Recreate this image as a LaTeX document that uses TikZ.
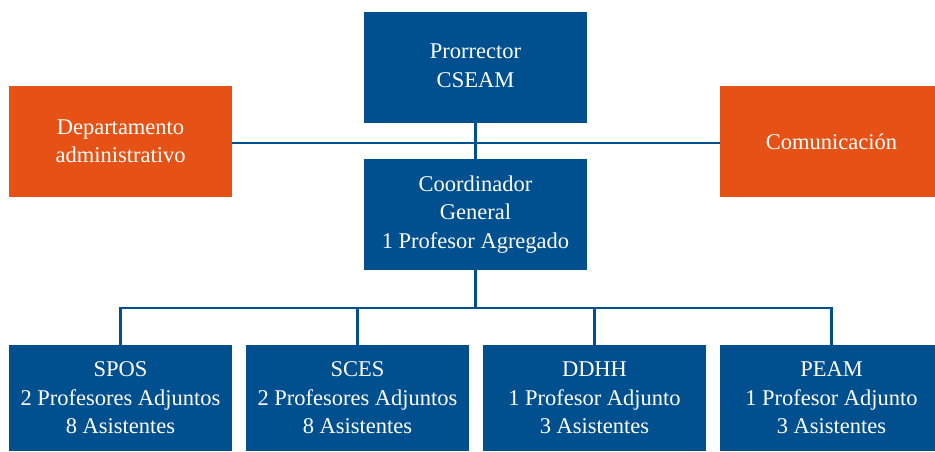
\documentclass[tikz,border=0pt]{standalone}
\usepackage{fontspec}
\setmainfont{Liberation Serif}
\definecolor{uniblue}{RGB}{0,79,143}
\definecolor{uniorange}{RGB}{230,82,22}
\begin{document}
\begin{tikzpicture}[x=1pt,y=-1pt,
  box/.style={fill=uniblue, text=white, inner sep=0pt, align=center,
    minimum width=223pt, minimum height=111pt,
    font=\fontsize{22.5}{28.5}\selectfont},
  obox/.style={box, fill=uniorange},
  lowbox/.style={box, minimum height=106pt},
  link/.style={draw=uniblue, line width=2.6pt}]
\clip (0,0) rectangle (935,451);
\fill[white] (0,0) rectangle (935,451);
\node[box] (pro) at (475.5,67.5) {\raisebox{3pt}{\begin{tabular}{@{}c@{}}Prorrector\\CSEAM\end{tabular}}};
\node[obox] (dep) at (120.5,141) {Departamento\\administrativo};
\node[obox] (com) at (831.5,141.5) {Comunicación};
\node[box] (coo) at (475.5,214.5) {Coordinador\\General\\1 Profesor Agregado};
\node[lowbox] (spos) at (120.5,398) {SPOS\\2 Profesores Adjuntos\\8 Asistentes};
\node[lowbox] (sces) at (357.5,398) {SCES\\2 Profesores Adjuntos\\8 Asistentes};
\node[lowbox] (ddhh) at (594.5,398) {DDHH\\1 Profesor Adjunto\\3 Asistentes};
\node[lowbox] (peam) at (831.5,398) {PEAM\\1 Profesor Adjunto\\3 Asistentes};
\coordinate (hl) at (475.5,143);
\coordinate (bus) at (475.5,308);
% connectors
\draw[link] (hl-|dep.east) -- (hl-|com.west);
\draw[link] (pro.south) -- (coo.north);
\draw[link] (coo.south) -- (bus);
\draw[link] (spos.north) |- (bus) -| (peam.north);
\draw[link] (sces.north) -- (sces.north|-bus);
\draw[link] (ddhh.north) -- (ddhh.north|-bus);
\end{tikzpicture}
\end{document}
